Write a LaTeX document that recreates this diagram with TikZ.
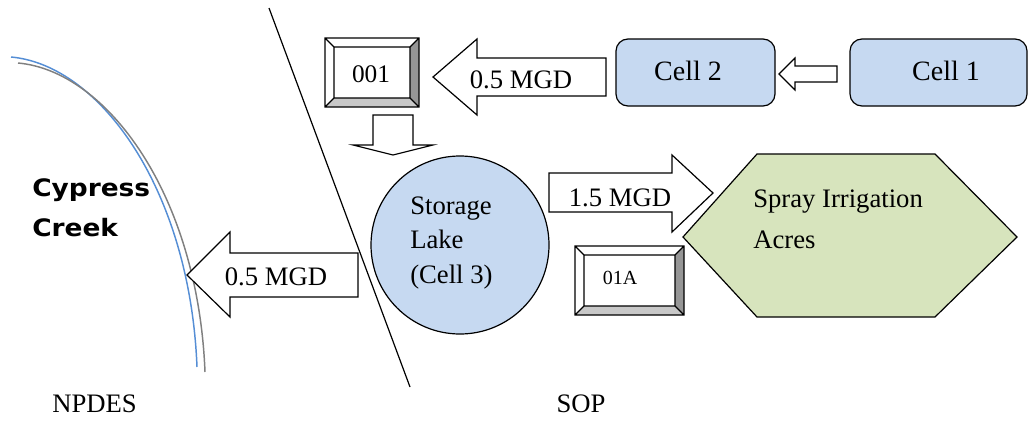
\documentclass[tikz,border=0pt]{standalone}
\usepackage{fontspec}
\setmainfont{Liberation Serif}
\newfontfamily\creekfont[FakeStretch=1.1]{DejaVu Sans Bold}

\definecolor{lakeblue}{RGB}{198,217,241}
\definecolor{spraygreen}{RGB}{215,228,189}
\definecolor{creekblue}{RGB}{85,142,213}
\definecolor{creekgray}{RGB}{128,128,128}
\definecolor{bevelright}{RGB}{150,150,150}
\definecolor{bevelbottom}{RGB}{200,200,200}

\tikzset{
  outline/.style={draw=black, line width=0.9pt, line join=miter},
  blockarrow/.style={outline, fill=white},
  cellbox/.style={outline, fill=lakeblue, rounded corners=9pt},
  label/.style={inner sep=0pt, font=\fontsize{20}{24}\selectfont},
}

% bevelled box: left, top, right, bottom, inset
\newcommand{\bevelbox}[5]{%
  \fill[white] (#1,#2) rectangle (#3,#4);
  \fill[bevelright] (#3,#2) -- (#3,#4) -- (#3-#5,#4-#5) -- (#3-#5,#2+#5) -- cycle;
  \fill[bevelbottom] (#1,#4) -- (#3,#4) -- (#3-#5,#4-#5) -- (#1+#5,#4-#5) -- cycle;
  \draw[outline] (#1,#2) rectangle (#3,#4) (#1+#5,#2+#5) rectangle (#3-#5,#4-#5)
    (#1,#2) -- (#1+#5,#2+#5) (#3,#2) -- (#3-#5,#2+#5)
    (#3,#4) -- (#3-#5,#4-#5) (#1,#4) -- (#1+#5,#4-#5);
}

\begin{document}
\begin{tikzpicture}[x=0.75pt, y=-0.75pt]
  \useasboundingbox (0,0) rectangle (1031,421);

  % creek banks
  \draw[creekblue, line width=1.1pt] (11,57) .. controls (100,65) and (190,190) .. (197,367);
  \draw[creekgray, line width=1.1pt] (18,63) .. controls (107,71) and (198,195) .. (205,372);
  \node[anchor=west, inner sep=0pt, align=left, font=\creekfont\fontsize{18}{30}\selectfont]
    (creek) at (32,208) {Cypress\\Creek};

  % NPDES / SOP boundary
  \coordinate (divTop) at (269,8);
  \coordinate (divBot) at (410,387);
  \draw[line width=0.9pt] (divTop) -- (divBot);

  % ponds
  \draw[cellbox] (616,39) rectangle (775,106);
  \node[label, anchor=base, font=\fontsize{21}{25}\selectfont] (cell2) at (688,80) {Cell 2};
  \draw[cellbox] (850,39) rectangle (1027,106);
  \node[label, anchor=base, font=\fontsize{21}{25}\selectfont] (cell1) at (946,80) {Cell 1};
  \draw[outline, fill=lakeblue] (460,245) circle [radius=89];
  \node[label, anchor=west, align=left, font=\fontsize{20}{26}\selectfont]
    (lake) at (410,243) {Storage\\Lake\\(Cell 3)};
  \draw[outline, fill=spraygreen] (683,237) -- (757,154) -- (935,154) -- (1017,237)
    -- (935,317) -- (757,317) -- cycle;
  \node[label, anchor=west, align=left, font=\fontsize{20}{31}\selectfont]
    (spray) at (753,219) {Spray Irrigation\\Acres};

  % outfalls
  \bevelbox{325}{38}{419}{107}{9}
  \node[label, anchor=base, font=\fontsize{19}{23}\selectfont] (out001) at (371,82) {001};
  \bevelbox{575}{246}{684}{315}{9}
  \node[label, anchor=base, font=\fontsize{15}{18}\selectfont] (out01A) at (620,284) {01A};

  % flows
  \draw[blockarrow] (837,66) -- (795,66) -- (795,58) -- (779,74) -- (795,90) -- (795,82)
    -- (837,82) -- cycle;
  \draw[blockarrow] (606,58) -- (477,58) -- (477,39) -- (433,77) -- (477,115) -- (477,96)
    -- (606,96) -- cycle;
  \node[label, anchor=base] (flowTop) at (521,88) {0.5 MGD};
  \draw[blockarrow] (373,115) -- (413,115) -- (413,145) -- (433,145) -- (393,155)
    -- (353,145) -- (373,145) -- cycle;
  \draw[blockarrow] (549,173) -- (672,173) -- (672,155) -- (713,193) -- (672,232)
    -- (672,212) -- (549,212) -- cycle;
  \node[label, anchor=base] (flowSpray) at (620,206) {1.5 MGD};
  \draw[blockarrow] (358,253) -- (230,253) -- (230,232) -- (187,275) -- (230,317)
    -- (230,297) -- (358,297) -- cycle;
  \node[label, anchor=base] (flowCreek) at (276,285) {0.5 MGD};

  % permit areas
  \node[label, anchor=base west] (npdes) at (52,412) {NPDES};
  \node[label, anchor=base] (sop) at (581,412) {SOP};
\end{tikzpicture}
\end{document}
